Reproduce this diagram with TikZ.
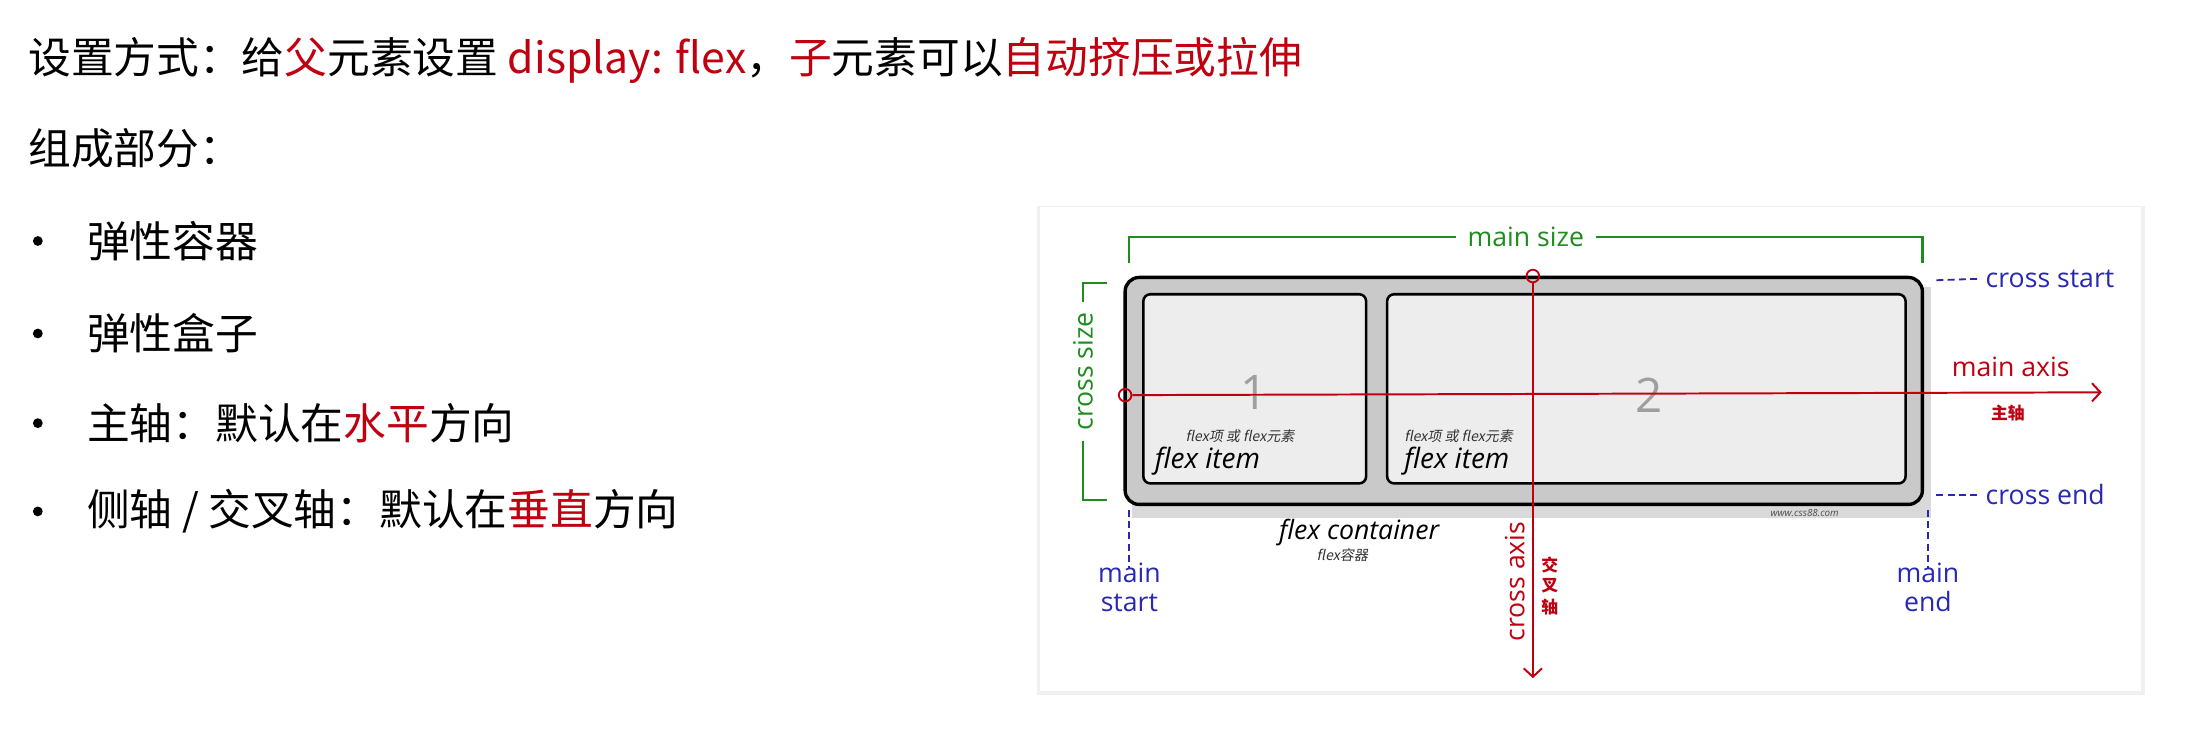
\documentclass[tikz,border=0pt]{standalone}
\usepackage{fontspec}
\setmainfont{Noto Sans CJK SC}
\newfontfamily\cjk{Noto Sans CJK SC}
\newfontfamily\cjkit{Noto Sans CJK SC}[FakeSlant=0.2]
\newfontfamily\lat{Open Sans}
\usetikzlibrary{arrows.meta}
\definecolor{myred}{HTML}{C00010}
\definecolor{mygreen}{HTML}{1E8C1E}
\definecolor{myblue}{HTML}{2828B4}
\begin{document}
\begin{tikzpicture}[x=1pt,y=-1pt,
  txt/.style={anchor=west,inner sep=0,font=\cjk\fontsize{30.5}{34}\selectfont},
  bul/.style={circle,fill=black,inner sep=0,minimum size=7},
  item/.style={draw=black,line width=1.8,fill=gray!14,rounded corners=5},
  lab/.style={inner sep=0,font=\lat\fontsize{19}{21}\selectfont},
  tiny/.style={inner sep=0,font=\cjkit\fontsize{10}{11}\selectfont,text=black!80},
  redl/.style={myred,line width=1.4},
  grn/.style={mygreen,line width=1.6},
  blu/.style={myblue,line width=1.3,dash pattern=on 5 off 3}]
\useasboundingbox (0,0) rectangle (1568,535);
\fill[white] (0,0) rectangle (1568,535);
% texts
\node[txt] (t1) at (20,43) {设置方式：给\textcolor{myred}{父}元素设置 \textcolor{myred}{display: flex}，\textcolor{myred}{子}元素可以\textcolor{myred}{自动挤压或拉伸}};
\node[txt] (t2) at (20,106) {组成部分：};
\foreach \y/\t [count=\i] in {172/{弹性容器},238/{弹性盒子},302/{主轴：默认在\textcolor{myred}{水平}方向},365/{侧轴 / 交叉轴：默认在\textcolor{myred}{垂直}方向}}{
  \node[bul] (b\i) at (27,\y) {};
  \node[txt] (l\i) at (62,\y) {\t};
}
% panel
\fill[black!6] (740,147) rectangle (1531,496);
\fill[white] (742,148) rectangle (1528,493);
% container
\fill[gray!30] (808,205) rectangle (1378,370);
\node[draw=black,line width=2.4,fill=gray!42,rounded corners=10,minimum width=569,minimum height=162,inner sep=0] (cont) at (1087.5,279) {};
\node[item,minimum width=159,minimum height=135,inner sep=0] (i1) at (895.5,277.5) {};
\node[item,minimum width=370,minimum height=135,inner sep=0] (i2) at (1175,277.5) {};
\node[inner sep=0,text=gray!75,font=\lat\fontsize{34}{34}\selectfont] (n1) at (895,280) {1};
\node[inner sep=0,text=gray!75,font=\lat\fontsize{34}{34}\selectfont] (n2) at (1177,282) {2};
\node[tiny,anchor=west] (s1) at (846,311) {flex项 或 flex元素};
\node[tiny,anchor=west] (s2) at (1002,311) {flex项 或 flex元素};
\node[inner sep=0,anchor=west,font=\lat\itshape\fontsize{20}{22}\selectfont] (f1) at (824,329) {flex item};
\node[inner sep=0,anchor=west,font=\lat\itshape\fontsize{20}{22}\selectfont] (f2) at (1002,329) {flex item};
\node[inner sep=0,font=\lat\itshape\fontsize{19}{21}\selectfont] (fc) at (970,380) {flex container};
\node[tiny] (fz) at (958,396) {flex容器};
\node[inner sep=0,font=\lat\itshape\fontsize{7}{8}\selectfont,text=black!70] (www) at (1288,366) {www.css88.com};
% axes
\node[circle,draw=myred,line width=1.3,inner sep=0,minimum size=9] (c1) at (803,282) {};
\node[circle,draw=myred,line width=1.3,inner sep=0,minimum size=9] (c2) at (1094,197) {};
\coordinate (ma) at (1500,280);
\coordinate (ca) at (1094,484);
\draw[redl,-{Straight Barb[length=6,width=13]}] (c1) -- (ma);
\draw[redl,-{Straight Barb[length=6,width=13]}] (c2) -- (ca);
\node[lab,text=myred] (mal) at (1435,262) {main axis};
\node[inner sep=0,text=myred,font=\cjk\bfseries\fontsize{12}{13}\selectfont] (zz) at (1433,295) {主轴};
\node[lab,text=myred,rotate=90] (cal) at (1081,415) {cross axis};
\node[inner sep=0,text=myred,font=\cjk\bfseries\fontsize{12}{13}\selectfont] (j1) at (1106,403) {交};
\node[inner sep=0,text=myred,font=\cjk\bfseries\fontsize{12}{13}\selectfont] (j2) at (1106,418) {叉};
\node[inner sep=0,text=myred,font=\cjk\bfseries\fontsize{12}{13}\selectfont] (j3) at (1106,433) {轴};
% main size
\node[lab,text=mygreen] (ms) at (1089,169) {main size};
\draw[grn] (ms.west) ++(-8,0) -| (806,188);
\draw[grn] (ms.east) ++(8,0) -| (1372,188);
% cross size
\node[lab,text=mygreen,rotate=90] (cs) at (773,265) {cross size};
\draw[grn] (cs.east) ++(0,-7) |- (790,202);
\draw[grn] (cs.west) ++(0,7) |- (790,357);
% cross start/end
\node[lab,text=myblue,anchor=west] (cst) at (1417,199) {cross start};
\node[lab,text=myblue,anchor=west] (cen) at (1417,353) {cross end};
\draw[blu] (1382,200) -- ([xshift=-5]cst.west);
\draw[blu] (1382,353) -- ([xshift=-5]cen.west);
% main start/end
\node[lab,text=myblue,align=center] (mst) at (806,419) {main\\start};
\node[lab,text=myblue,align=center] (men) at (1376,419) {main\\end};
\draw[blu] (806,364) -- ([yshift=-4]mst.north);
\draw[blu] (1376,364) -- ([yshift=-4]men.north);
\end{tikzpicture}
\end{document}
